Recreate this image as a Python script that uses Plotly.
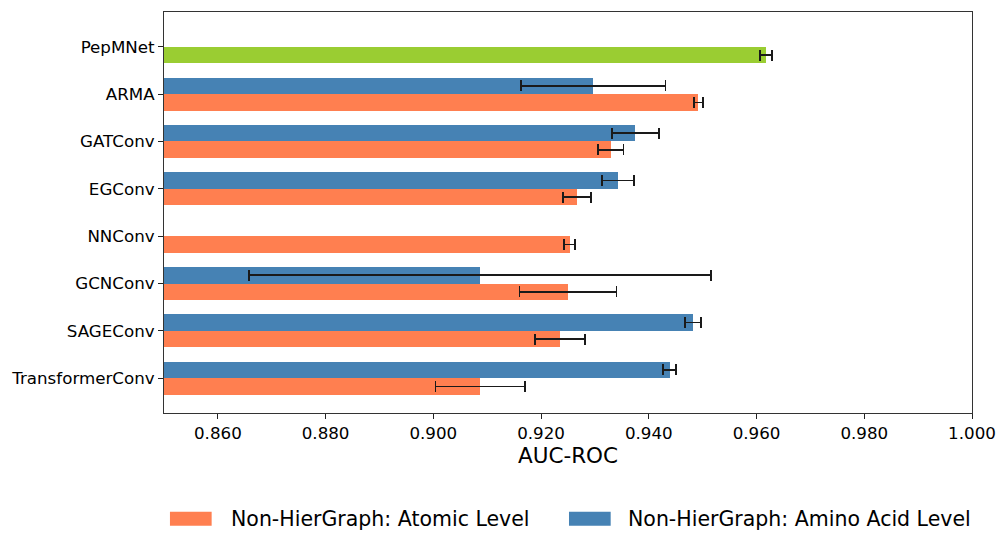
import plotly.graph_objects as go

# ---- data ----
models = ["PepMNet", "ARMA", "GATConv", "EGConv", "NNConv", "GCNConv", "SAGEConv", "TransformerConv"]

# Atomic level (orange); PepMNet shown separately in green
atomic_models = ["ARMA", "GATConv", "EGConv", "NNConv", "GCNConv", "SAGEConv", "TransformerConv"]
atomic_auc = [0.9492, 0.9329, 0.9266, 0.9253, 0.9250, 0.9235, 0.9087]
atomic_err = [0.0008, 0.0024, 0.0026, 0.0010, 0.0090, 0.0047, 0.0083]

# Amino-acid level (blue); NNConv has no value
amino_models = ["ARMA", "GATConv", "EGConv", "GCNConv", "SAGEConv", "TransformerConv"]
amino_auc = [0.9297, 0.9375, 0.9343, 0.9087, 0.9482, 0.9439]
amino_err = [0.0134, 0.0044, 0.0030, 0.0429, 0.0015, 0.0012]

pep_models = ["PepMNet"]
pep_auc = [0.9617]
pep_err = [0.0011]

x_ticks = [0.86, 0.88, 0.90, 0.92, 0.94, 0.96, 0.98, 1.00]
x_tick_text = ["0.860", "0.880", "0.900", "0.920", "0.940", "0.960", "0.980", "1.000"]

legend_labels = ["Non-HierGraph: Atomic Level", "Non-HierGraph: Amino Acid Level"]

# ---- styling ----
BAR_H = 0.35
FONT = "DejaVu Sans"
C_ATOM = "#FF7F50"
C_AMINO = "#4682B4"
C_PEP = "#9ACD32"

W, H = 1007, 534
ML, MR, MT, MB = 164, 29, 11, 121
PW, PH = W - ML - MR, H - MT - MB

idx = {m: i for i, m in enumerate(models)}

def err(arr):
    return dict(type="data", array=arr, visible=True, color="#1a1a1a", thickness=1.8, width=5.5)

fig = go.Figure()

fig.add_trace(go.Bar(
    x=pep_auc, y=[idx[m] + BAR_H / 2 for m in pep_models], orientation="h",
    width=BAR_H, marker=dict(color=C_PEP, line=dict(width=0)),
    error_x=err(pep_err), showlegend=False, name="PepMNet",
))
fig.add_trace(go.Bar(
    x=atomic_auc, y=[idx[m] + BAR_H / 2 for m in atomic_models], orientation="h",
    width=BAR_H, marker=dict(color=C_ATOM, line=dict(width=0)),
    error_x=err(atomic_err), name=legend_labels[0], showlegend=False,
))
fig.add_trace(go.Bar(
    x=amino_auc, y=[idx[m] - BAR_H / 2 for m in amino_models], orientation="h",
    width=BAR_H, marker=dict(color=C_AMINO, line=dict(width=0)),
    error_x=err(amino_err), name=legend_labels[1], showlegend=False,
))

# legend drawn as patches + text (matplotlib-style wide patches)
def px_x(page_x):
    return (page_x - ML) / PW

def px_y(page_y):
    return (H - MB - page_y) / PH

legend_items = [(170, 212, C_ATOM, legend_labels[0], 229), (572, 614, C_AMINO, legend_labels[1], 629)]
for x0, x1, col, lab, tx in legend_items:
    fig.add_shape(type="rect", xref="paper", yref="paper",
                  x0=px_x(x0), x1=px_x(x1), y0=px_y(526), y1=px_y(512),
                  fillcolor=col, line=dict(width=0))
    fig.add_annotation(xref="paper", yref="paper", x=px_x(tx), y=px_y(519),
                       xanchor="left", yanchor="middle", showarrow=False,
                       text=lab, font=dict(size=20.5, family=FONT, color="black"))

fig.update_layout(
    width=W, height=H,
    margin=dict(l=ML, r=MR, t=MT, b=MB),
    paper_bgcolor="white", plot_bgcolor="white",
    font=dict(family=FONT, color="black", size=16.7),
    barmode="overlay",
    bargap=0,
    showlegend=False,
)

fig.update_xaxes(
    range=[0.85, 1.0], tickvals=x_ticks, ticktext=x_tick_text,
    ticks="outside", ticklen=5, tickcolor="#222", tickwidth=1,
    showline=True, linecolor="#333", linewidth=1, mirror=True,
    showgrid=False, zeroline=False,
    tickfont=dict(size=16.7),
    title=dict(text="AUC-ROC", font=dict(size=21.5), standoff=3),
)
fig.update_yaxes(
    range=[len(models) - 1 + 0.735, -0.735],
    tickvals=list(range(len(models))), ticktext=models,
    ticks="outside", ticklen=5, tickcolor="#222", tickwidth=1,
    showline=True, linecolor="#333", linewidth=1, mirror=True,
    showgrid=False, zeroline=False,
    tickfont=dict(size=16.7),
)

fig.write_html(
    "out.html",
    config={"displayModeBar": False, "staticPlot": True},
    post_script="document.body.style.margin='0';document.body.style.overflow='hidden';",
)
